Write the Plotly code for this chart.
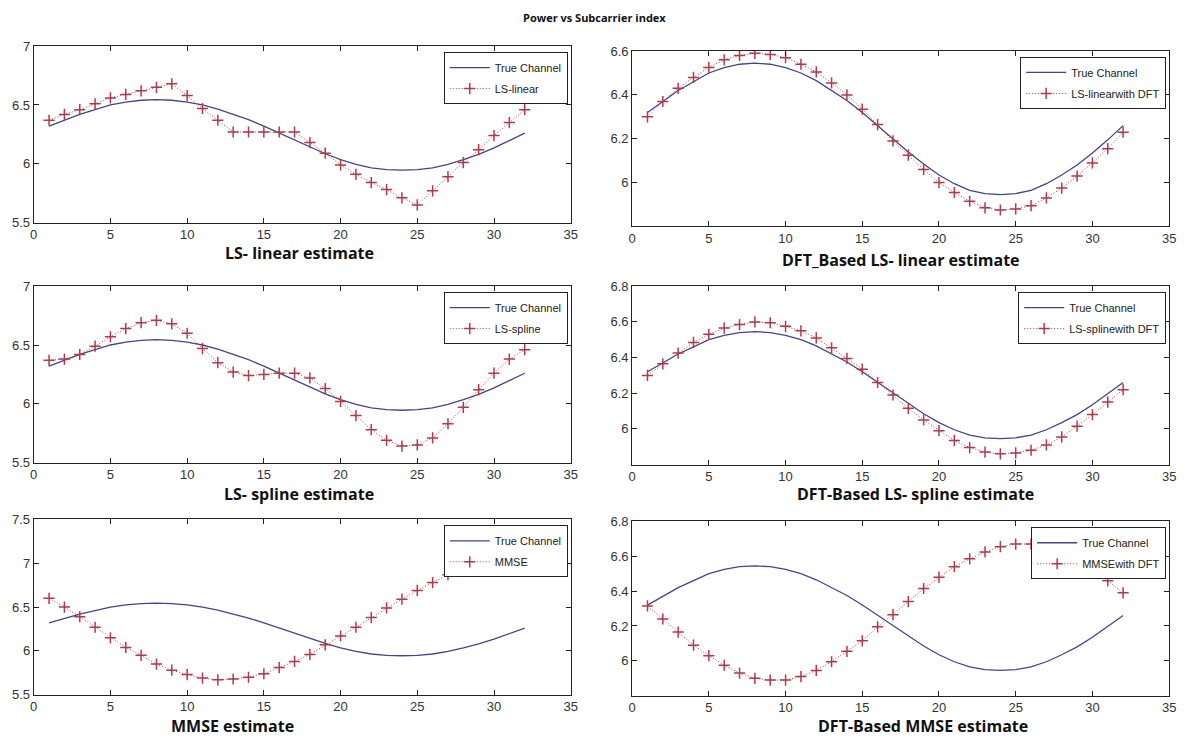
import plotly.graph_objects as go

# ---------------- data ----------------
subcarrier = list(range(1, 33))

true_channel = [6.32, 6.37, 6.42, 6.46, 6.50, 6.525, 6.54, 6.545, 6.54, 6.525, 6.50, 6.465,
                6.42, 6.375, 6.32, 6.26, 6.20, 6.14, 6.085, 6.035, 5.995, 5.965, 5.95, 5.945,
                5.95, 5.965, 5.995, 6.035, 6.08, 6.135, 6.195, 6.26]

ls_linear = [6.37, 6.42, 6.46, 6.51, 6.56, 6.59, 6.62, 6.65, 6.68, 6.58, 6.47, 6.37,
             6.27, 6.27, 6.27, 6.27, 6.27, 6.18, 6.09, 5.99, 5.91, 5.84, 5.78, 5.71,
             5.65, 5.77, 5.89, 6.01, 6.12, 6.24, 6.35, 6.46]

ls_linear_dft = [6.30, 6.37, 6.43, 6.48, 6.525, 6.56, 6.58, 6.59, 6.585, 6.57, 6.54, 6.505,
                 6.455, 6.40, 6.335, 6.265, 6.19, 6.125, 6.06, 6.00, 5.955, 5.915, 5.885, 5.875,
                 5.88, 5.895, 5.93, 5.975, 6.03, 6.09, 6.155, 6.23]

ls_spline = [6.37, 6.38, 6.42, 6.49, 6.57, 6.64, 6.69, 6.71, 6.68, 6.60, 6.47, 6.35,
             6.27, 6.24, 6.25, 6.26, 6.26, 6.22, 6.13, 6.02, 5.90, 5.78, 5.69, 5.64,
             5.65, 5.71, 5.83, 5.97, 6.12, 6.26, 6.38, 6.46]

ls_spline_dft = [6.30, 6.365, 6.425, 6.485, 6.53, 6.565, 6.585, 6.60, 6.595, 6.575, 6.55, 6.51,
                 6.455, 6.395, 6.335, 6.26, 6.19, 6.115, 6.05, 5.99, 5.935, 5.895, 5.87, 5.86,
                 5.865, 5.88, 5.91, 5.955, 6.015, 6.08, 6.15, 6.22]

mmse = [6.60, 6.50, 6.39, 6.27, 6.15, 6.04, 5.95, 5.85, 5.78, 5.73, 5.69, 5.67,
        5.68, 5.70, 5.74, 5.81, 5.88, 5.96, 6.07, 6.17, 6.27, 6.38, 6.49, 6.59,
        6.69, 6.78, 6.87, 6.95, 7.02, 7.08, 7.12, 7.15]

mmse_dft = [6.315, 6.24, 6.165, 6.09, 6.03, 5.975, 5.93, 5.90, 5.89, 5.89, 5.91, 5.945,
            5.995, 6.055, 6.115, 6.195, 6.265, 6.34, 6.415, 6.48, 6.54, 6.585, 6.625, 6.655,
            6.67, 6.67, 6.655, 6.625, 6.58, 6.52, 6.46, 6.39]

estimate_names = ["LS-linear", "LS-linearwith DFT", "LS-spline", "LS-splinewith DFT",
                  "MMSE", "MMSEwith DFT"]
estimates = [ls_linear, ls_linear_dft, ls_spline, ls_spline_dft, mmse, mmse_dft]
subtitles = ["LS- linear estimate", "DFT_Based LS- linear estimate",
             "LS- spline estimate", "DFT-Based LS- spline estimate",
             "MMSE estimate", "DFT-Based MMSE estimate"]
main_title = "Power vs Subcarrier index"

x_ticks = [0, 5, 10, 15, 20, 25, 30, 35]
y_ranges = [[5.5, 7], [5.8, 6.6], [5.5, 7], [5.8, 6.8], [5.5, 7.5], [5.8, 6.8]]
y_tickvals = [[5.5, 6, 6.5, 7], [6, 6.2, 6.4, 6.6], [5.5, 6, 6.5, 7],
              [6, 6.2, 6.4, 6.6, 6.8], [5.5, 6, 6.5, 7, 7.5], [6, 6.2, 6.4, 6.6, 6.8]]
y_ticktext = [["5.5", "6", "6.5", "7"], ["6", "6.2", "6.4", "6.6"], ["5.5", "6", "6.5", "7"],
              ["6", "6.2", "6.4", "6.6", "6.8"], ["5.5", "6", "6.5", "7", "7.5"],
              ["6", "6.2", "6.4", "6.6", "6.8"]]

# ---------------- layout geometry (pixels) ----------------
W, H = 1191, 740
boxes = [  # x0, x1, y_top, y_bottom
    (30, 572, 40, 220), (634, 1176, 45, 224),
    (30, 572, 285, 465), (634, 1176, 285, 467),
    (30, 572, 523, 702), (634, 1176, 525, 703),
]
subtitle_pos = [(298, 251), (905, 258), (298, 497), (920, 497), (231, 734), (928, 734)]

TRUE_COLOR = "#44448a"
EST_COLOR = "#b23a48"
TICK_FONT = dict(family="Liberation Sans, Arial, sans-serif", size=13, color="#333333")

fig = go.Figure()
layout = dict(width=W, height=H, margin=dict(l=0, r=0, t=0, b=0),
              paper_bgcolor="white", plot_bgcolor="white", showlegend=True)
annotations = []

for i in range(6):
    n = i + 1
    xa = "x" if n == 1 else f"x{n}"
    ya = "y" if n == 1 else f"y{n}"
    lg = "legend" if n == 1 else f"legend{n}"
    x0, x1, yt, yb = boxes[i]

    fig.add_trace(go.Scatter(
        x=subcarrier, y=true_channel, mode="lines", name="True Channel",
        legendgroup=f"t{n}",
        line=dict(color=TRUE_COLOR, width=1.3), xaxis=xa, yaxis=ya, legend=lg))
    fig.add_trace(go.Scatter(
        x=subcarrier, y=estimates[i], mode="lines+markers", name=estimate_names[i],
        legendgroup=f"e{n}",
        line=dict(color=EST_COLOR, width=1, dash="1px,2px"),
        marker=dict(symbol="cross-thin", size=8, line=dict(color=EST_COLOR, width=1.5)),
        xaxis=xa, yaxis=ya, legend=lg))

    axis_common = dict(showgrid=False, zeroline=False, showline=True, linecolor="#222222",
                       linewidth=1, mirror="ticks", ticks="inside", ticklen=5,
                       tickcolor="#222222", tickfont=TICK_FONT)
    layout["xaxis" if n == 1 else f"xaxis{n}"] = dict(
        domain=[x0 / W, x1 / W], range=[0, 35], tickvals=x_ticks,
        anchor=ya, **axis_common)
    layout["yaxis" if n == 1 else f"yaxis{n}"] = dict(
        domain=[1 - yb / H, 1 - yt / H], range=y_ranges[i],
        tickvals=y_tickvals[i], ticktext=y_ticktext[i], anchor=xa, **axis_common)

    layout[lg] = dict(x=(x1 - 3) / W, y=1 - (yt + 6) / H, xanchor="right", yanchor="top",
                      bgcolor="white", bordercolor="#222222", borderwidth=1,
                      font=dict(family="Liberation Sans, Arial, sans-serif", size=11,
                                color="#222222"),
                      tracegroupgap=2, itemwidth=40)

    sx, sy = subtitle_pos[i]
    annotations.append(dict(text=f"<b>{subtitles[i]}</b>", x=sx / W, y=1 - sy / H,
                            xref="paper", yref="paper", showarrow=False,
                            xanchor="center", yanchor="middle",
                            font=dict(family="Open Sans, sans-serif", size=16, color="#111111")))

annotations.append(dict(text=f"<b>{main_title}</b>", x=596 / W, y=1 - 11 / H,
                        xref="paper", yref="paper", showarrow=False,
                        xanchor="center", yanchor="middle",
                        font=dict(family="Open Sans, sans-serif", size=11, color="#111111")))
layout["annotations"] = annotations
fig.update_layout(**layout)
fig.write_html("out.html", config={"displayModeBar": False},
               post_script="document.body.style.margin='0px';")
